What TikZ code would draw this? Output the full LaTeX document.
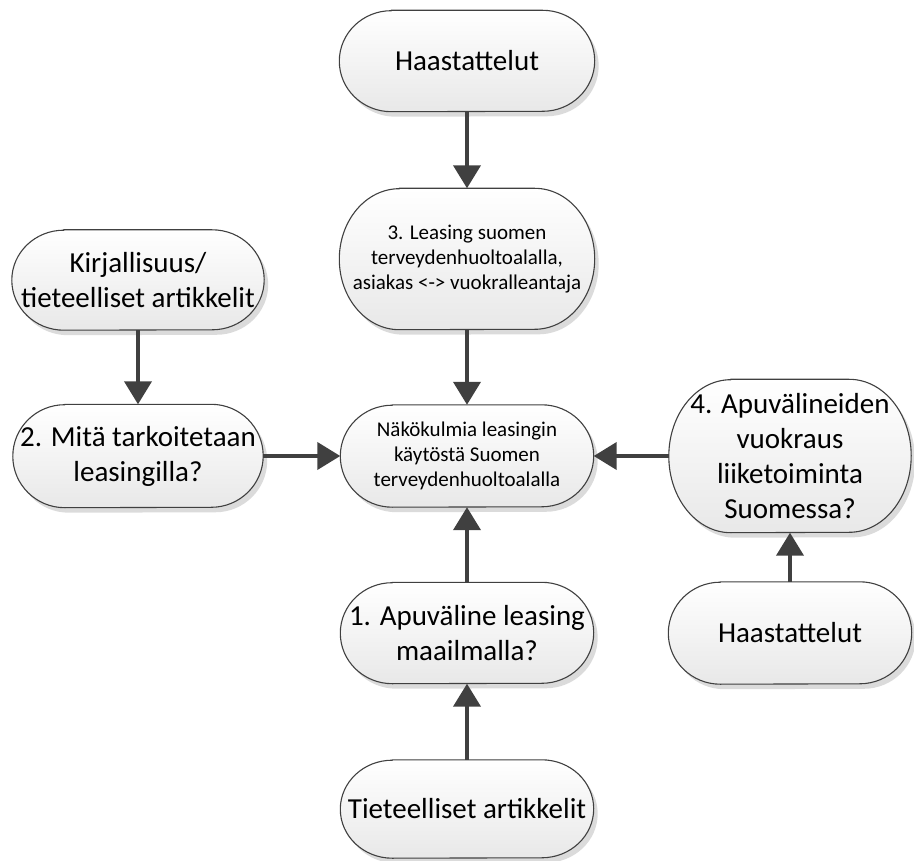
\documentclass[tikz,border=0pt]{standalone}
\usepackage{fontspec}
\setmainfont{Carlito}
\usetikzlibrary{arrows.meta,shadows}
\pgfdeclarelayer{background}
\pgfsetlayers{background,main}
\definecolor{edge}{HTML}{404040}
\tikzset{
 box/.style={rectangle, inner sep=0pt, align=center, font=\fontsize{29}{35}\selectfont},
 smalltext/.style={font=\fontsize{21}{25}\selectfont},
 outline/.style={draw=edge, line width=1.1pt, top color=white, bottom color=black!9,
   drop shadow={shadow xshift=4pt, shadow yshift=-5pt, fill=black!14, opacity=1}},
 arr/.style={draw=edge, line width=4pt, -{Triangle[length=23pt,width=27pt]}}
}
\newcommand\termout[3]{%
 \draw[outline] ([xshift=#2pt]#1.north west) -- ([xshift=-#2pt]#1.north east)
   arc[start angle=90,end angle=-90,x radius=#2pt,y radius=#3pt]
   -- ([xshift=#2pt]#1.south west)
   arc[start angle=270,end angle=90,x radius=#2pt,y radius=#3pt] -- cycle;}
\begin{document}
\begin{tikzpicture}[x=1pt,y=-1pt]
\useasboundingbox (0,0) rectangle (914,861);
\node[box, minimum width=255pt, minimum height=101pt] (top) at (467,61) {Haastattelut};
\node[box, smalltext, minimum width=255pt, minimum height=141pt] (n3) at (467,259) {3. Leasing suomen\\terveydenhuoltoalalla,\\asiakas <-> vuokralleantaja};
\node[box, smalltext, minimum width=253pt, minimum height=102pt] (c) at (467,456) {Näkökulmia leasingin\\käytöstä Suomen\\terveydenhuoltoalalla};
\node[box, minimum width=252pt, minimum height=100pt] (k) at (138,280) {Kirjallisuus/\\tieteelliset artikkelit};
\node[box, minimum width=250pt, minimum height=103pt] (n2) at (138,456) {2. Mitä tarkoitetaan\\leasingilla?};
\node[box, minimum width=242pt, minimum height=153pt] (n4) at (790,456) {4. Apuvälineiden\\vuokraus\\liiketoiminta\\Suomessa?};
\node[box, minimum width=243pt, minimum height=102pt] (h2) at (790,633) {Haastattelut};
\node[box, minimum width=253pt, minimum height=101pt] (n1) at (467,633) {1. Apuväline leasing\\maailmalla?};
\node[box, minimum width=253pt, minimum height=98pt] (t) at (467,809) {Tieteelliset artikkelit};
\begin{pgfonlayer}{background}
\termout{top}{52}{50.5}
\termout{n3}{60}{70.5}
\termout{c}{52}{51}
\termout{k}{52}{50}
\termout{n2}{52}{51.5}
\termout{n4}{62}{76.5}
\termout{h2}{52}{51}
\termout{n1}{52}{50.5}
\termout{t}{52}{49}
\end{pgfonlayer}
\draw[arr] (top) -- (n3);
\draw[arr] (n3) -- (c);
\draw[arr] (n1) -- (c);
\draw[arr] (t) -- (n1);
\draw[arr] (k) -- (n2);
\draw[arr] (n2) -- (c);
\draw[arr] (n4) -- (c);
\draw[arr] (h2) -- (n4);
\end{tikzpicture}
\end{document}
